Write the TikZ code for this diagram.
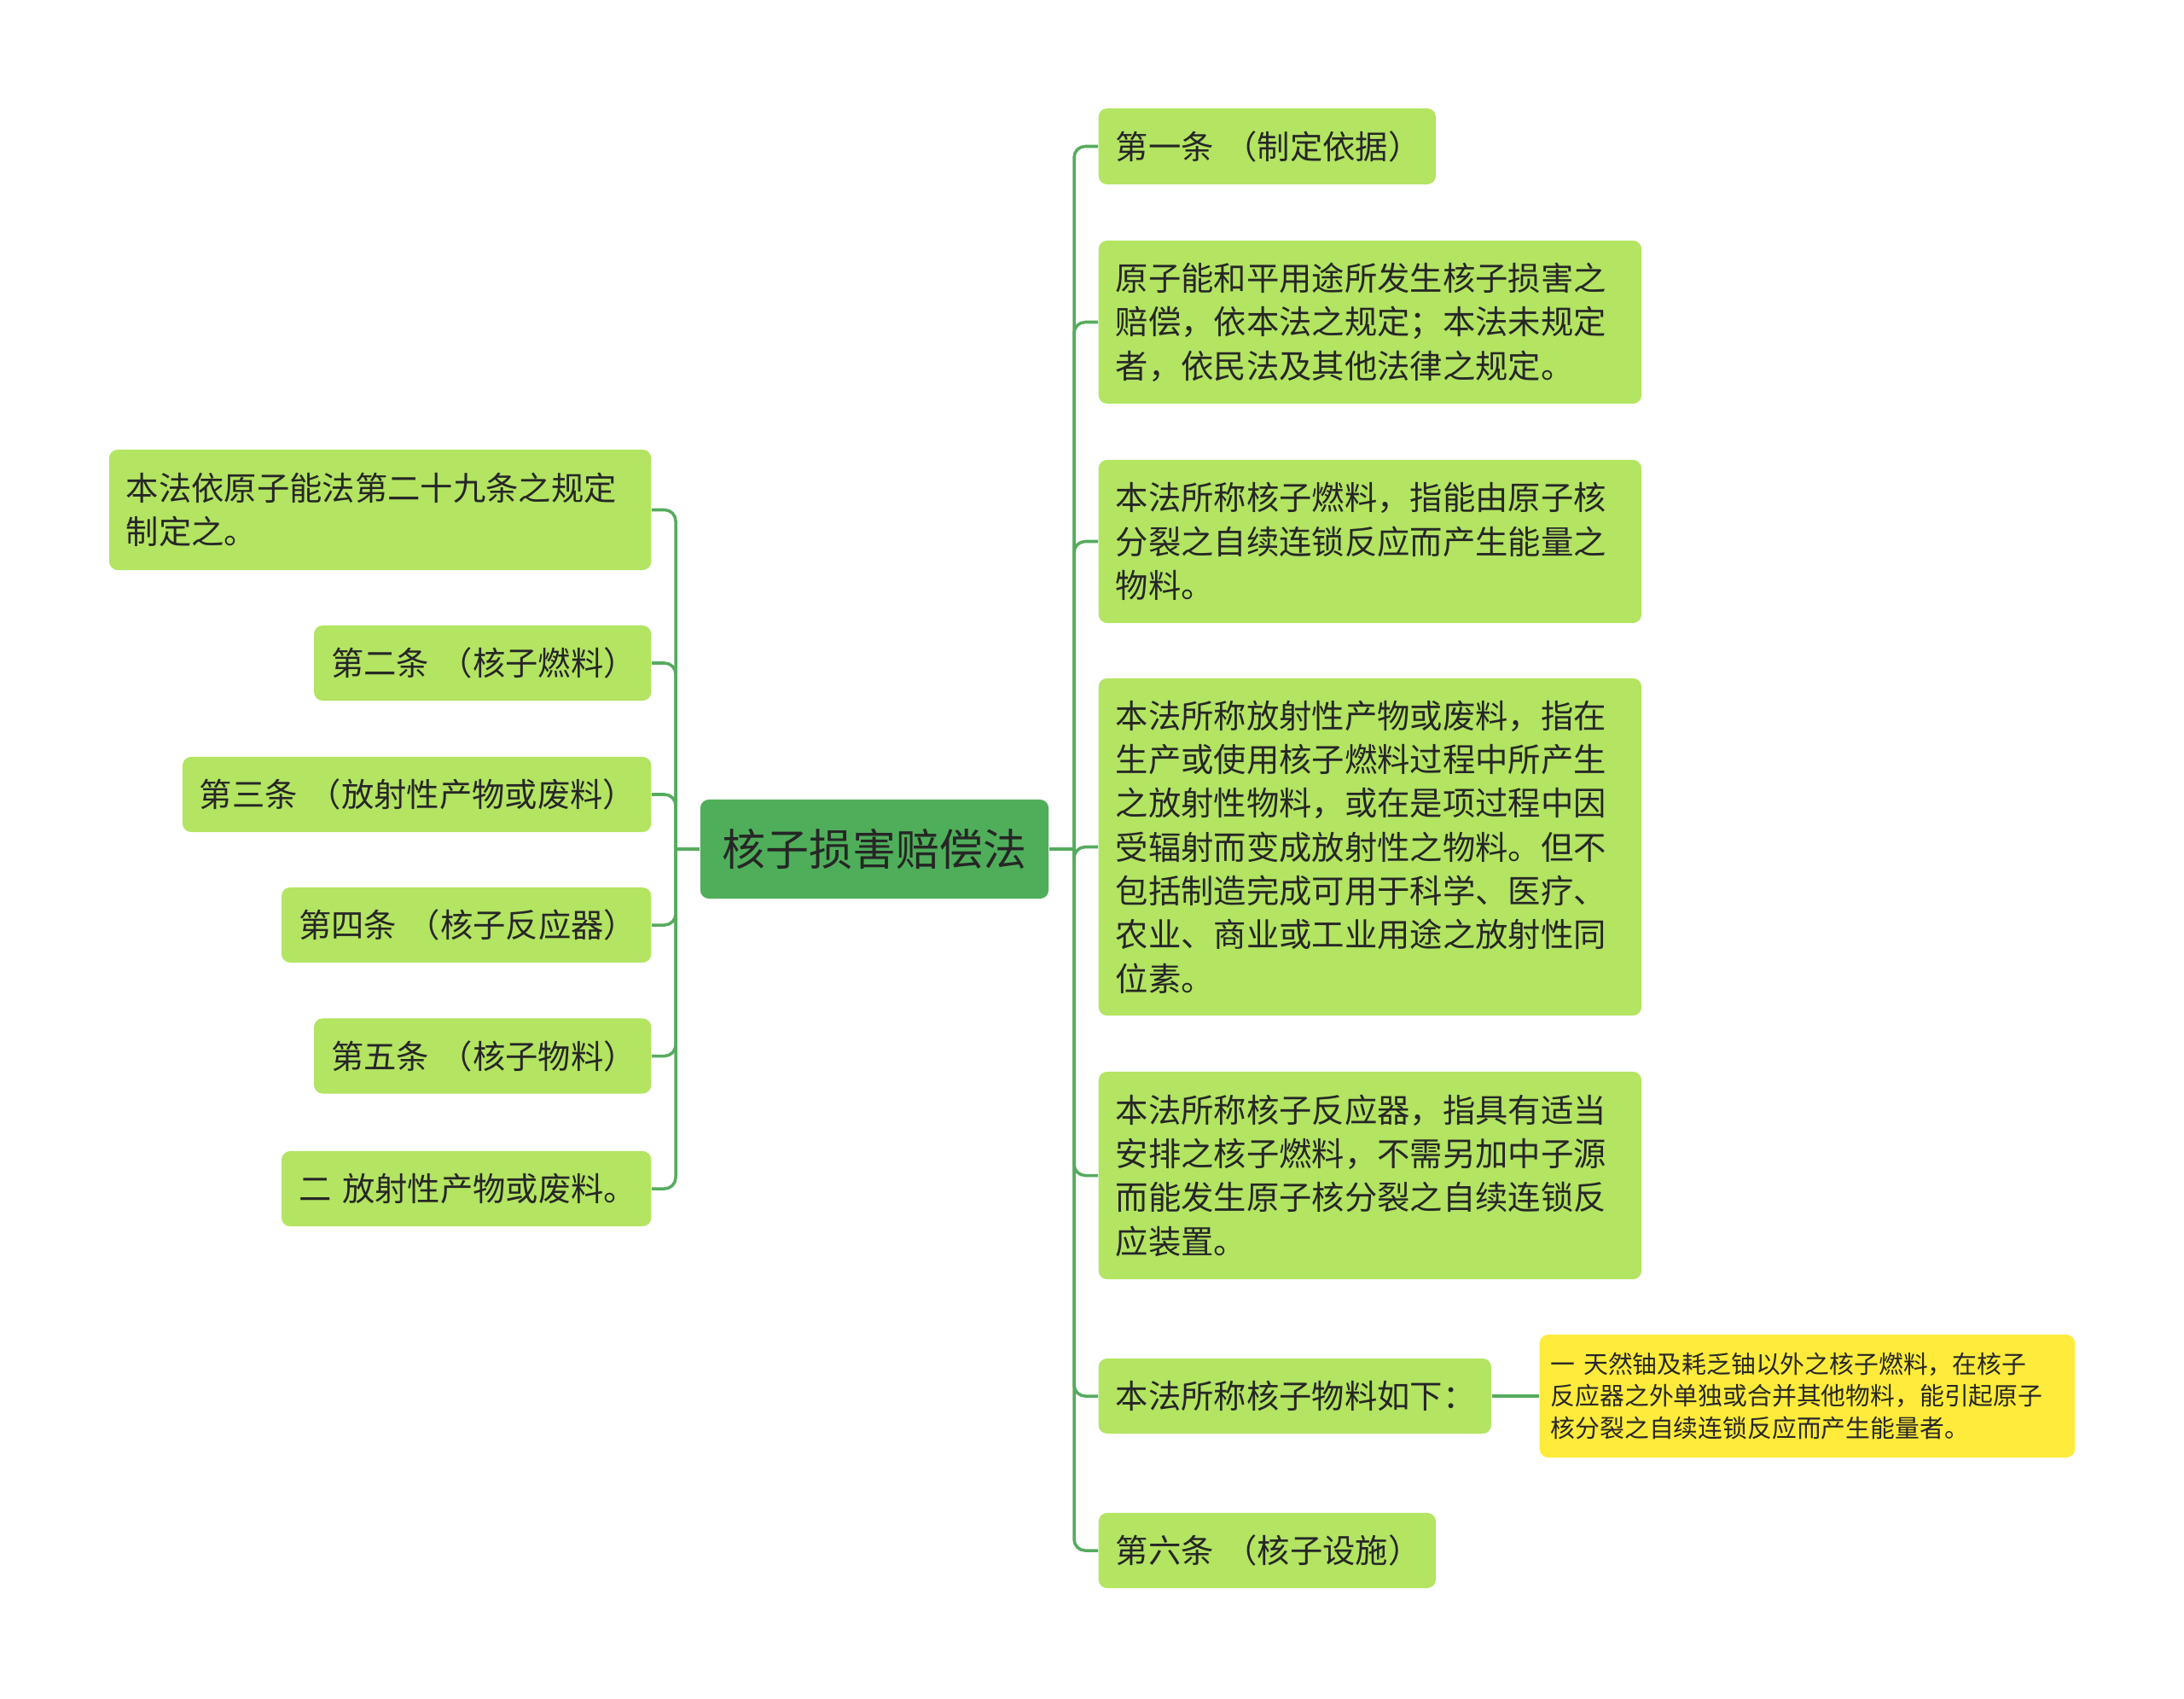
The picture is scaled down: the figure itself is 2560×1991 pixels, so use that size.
\documentclass[tikz,border=0pt]{standalone}
\usepackage{fontspec}
\newfontfamily\cjk{Noto Sans CJK SC}
\definecolor{leafgreen}{HTML}{B3E462}
\definecolor{hubgreen}{HTML}{4FAE5A}
\definecolor{noteyellow}{HTML}{FFEB3B}
\definecolor{linegreen}{HTML}{56AB5E}
\definecolor{inkdark}{HTML}{262626}
\begin{document}
\begin{tikzpicture}[x=0.01cm, y=-0.01cm]
	\tikzset{leaf/.style={rectangle, rounded corners=0.1cm, fill=leafgreen, text=inkdark, inner xsep=0.2cm, inner ysep=0pt, align=left, font=\cjk\fontsize{10.9}{14.6}\selectfont}}
	\tikzset{hub/.style={rectangle, rounded corners=0.1cm, fill=hubgreen, text=inkdark, inner sep=0pt, align=center, minimum width=4.08cm, minimum height=1.16cm, font=\cjk\fontsize{14.5}{17}\selectfont}}
	\tikzset{note/.style={rectangle, rounded corners=0.1cm, fill=noteyellow, text=inkdark, inner xsep=0.13cm, inner ysep=0pt, align=left, font=\cjk\fontsize{8.2}{10.7}\selectfont}}
	\tikzset{link/.style={draw=linegreen, line width=1pt, rounded corners=0.13cm}}
	\useasboundingbox (0,0) rectangle (2560,1991);
	\node[hub] at (1025, 995) (hub) {核子损害赔偿法};
	\node[leaf, anchor=west, text width=3.55cm, minimum height=0.89cm] at (1287, 171.5) (r1) {第一条~（制定依据）};
	\node[leaf, anchor=west, text width=5.96cm, minimum height=1.91cm] at (1287, 377.5) (r2) {原子能和平用途所发生核子损害之\\赔偿，依本法之规定；本法未规定\\者，依民法及其他法律之规定。};
	\node[leaf, anchor=west, text width=5.96cm, minimum height=1.91cm] at (1287, 634.5) (r3) {本法所称核子燃料，指能由原子核\\分裂之自续连锁反应而产生能量之\\物料。};
	\node[leaf, anchor=west, text width=5.96cm, minimum height=3.95cm] at (1287, 992.5) (r4) {本法所称放射性产物或废料，指在\\生产或使用核子燃料过程中所产生\\之放射性物料，或在是项过程中因\\受辐射而变成放射性之物料。但不\\包括制造完成可用于科学、医疗、\\农业、商业或工业用途之放射性同\\位素。};
	\node[leaf, anchor=west, text width=5.96cm, minimum height=2.43cm] at (1287, 1377.5) (r5) {本法所称核子反应器，指具有适当\\安排之核子燃料，不需另加中子源\\而能发生原子核分裂之自续连锁反\\应装置。};
	\node[leaf, anchor=west, text width=4.2cm, minimum height=0.88cm] at (1287, 1636) (r6) {本法所称核子物料如下：};
	\node[note, anchor=west, text width=6.01cm, minimum height=1.44cm] at (1804, 1636) (n6) {一~天然铀及耗乏铀以外之核子燃料，在核子\\反应器之外单独或合并其他物料，能引起原子\\核分裂之自续连锁反应而产生能量者。};
	\node[leaf, anchor=west, text width=3.55cm, minimum height=0.88cm] at (1287, 1817) (r7) {第六条~（核子设施）};
	\node[leaf, anchor=east, text width=5.95cm, minimum height=1.41cm] at (764, 597.5) (l1) {本法依原子能法第二十九条之规定\\制定之。};
	\node[leaf, anchor=east, text width=3.55cm, minimum height=0.88cm] at (764, 777) (l2) {第二条~（核子燃料）};
	\node[leaf, anchor=east, text width=5.09cm, minimum height=0.88cm] at (764, 931) (l3) {第三条~（放射性产物或废料）};
	\node[leaf, anchor=east, text width=3.93cm, minimum height=0.88cm] at (764, 1084) (l4) {第四条~（核子反应器）};
	\node[leaf, anchor=east, text width=3.55cm, minimum height=0.88cm] at (764, 1237.5) (l5) {第五条~（核子物料）};
	\node[leaf, anchor=east, text width=3.93cm, minimum height=0.88cm] at (764, 1393) (l6) {二~放射性产物或废料。};
	\coordinate (rj) at (1259, 995);
	\coordinate (lj) at (792, 995);
	\draw[link] (hub.east) -- (rj);
	\draw[link] (rj) |- (r1.west);
	\draw[link] (rj) |- (r2.west);
	\draw[link] (rj) |- (r3.west);
	\draw[link] (rj) |- (r4.west);
	\draw[link] (rj) |- (r5.west);
	\draw[link] (rj) |- (r6.west);
	\draw[link] (rj) |- (r7.west);
	\draw[link] (r6.east) -- (n6.west);
	\draw[link] (hub.west) -- (lj);
	\draw[link] (lj) |- (l1.east);
	\draw[link] (lj) |- (l2.east);
	\draw[link] (lj) |- (l3.east);
	\draw[link] (lj) |- (l4.east);
	\draw[link] (lj) |- (l5.east);
	\draw[link] (lj) |- (l6.east);
\end{tikzpicture}
\end{document}
